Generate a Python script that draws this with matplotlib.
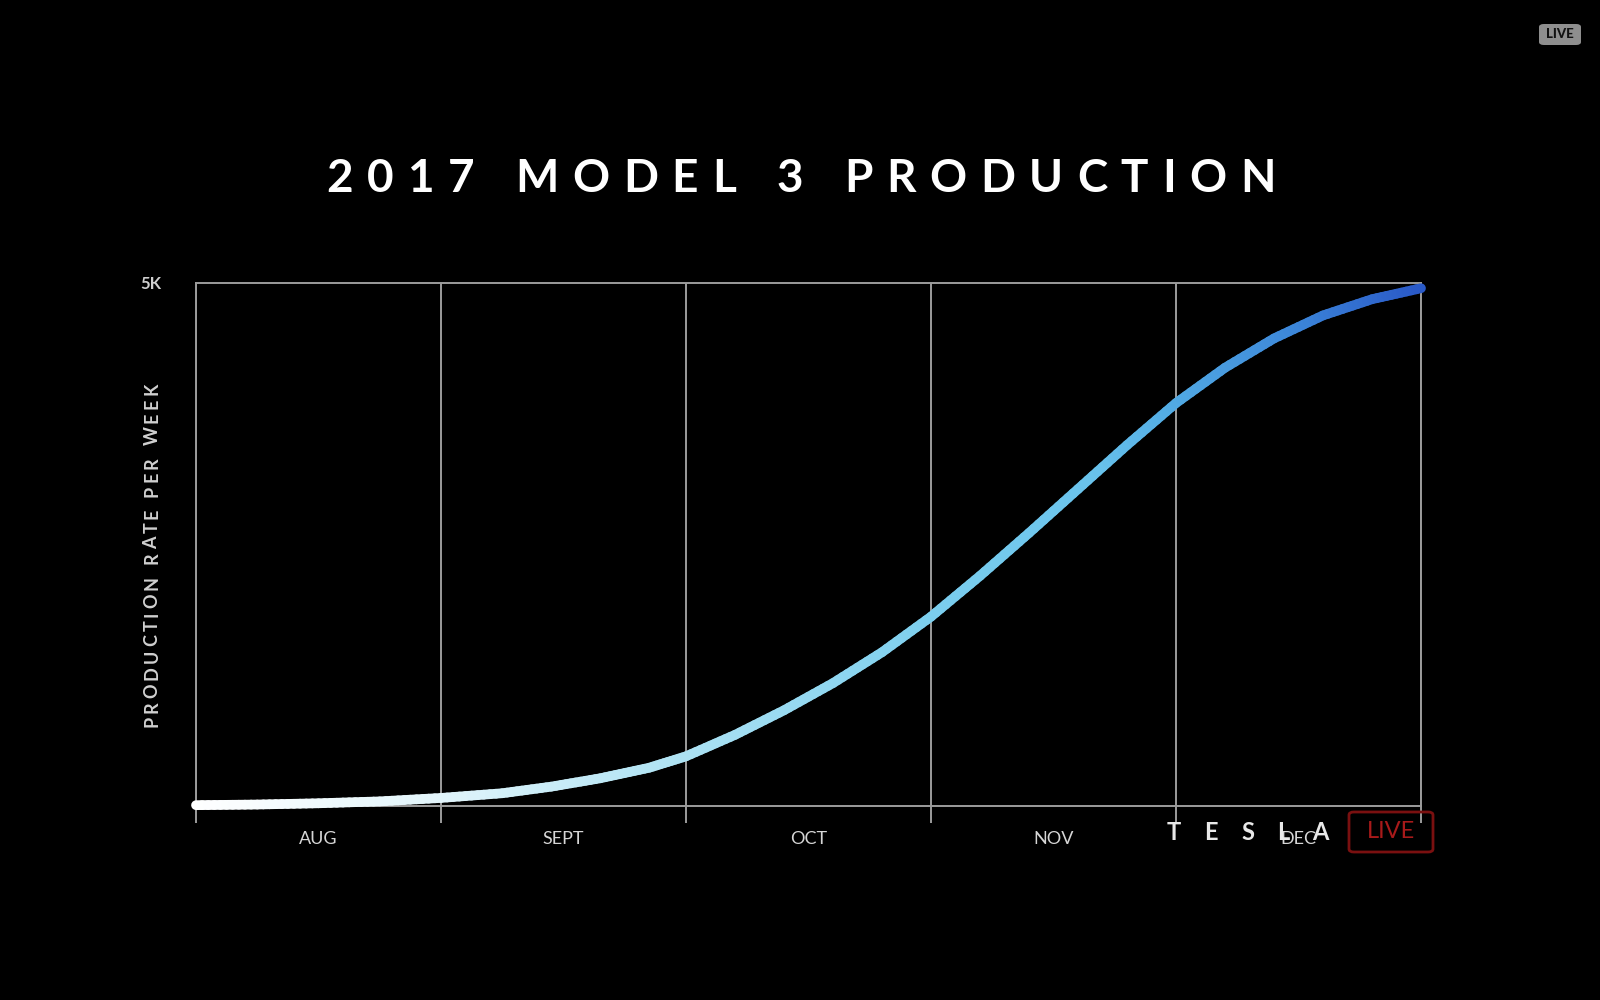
import numpy as np
import matplotlib.pyplot as plt
from matplotlib.collections import LineCollection
from matplotlib.colors import LinearSegmentedColormap
from matplotlib.patches import FancyBboxPatch

# values (months since start of Aug, cars per week)
months = [0.0, 0.25, 0.5, 0.75, 1.0, 1.25, 1.45, 1.65, 1.85, 2.0, 2.2, 2.4,
          2.6, 2.8, 3.0, 3.2, 3.4, 3.6, 3.8, 4.0, 4.2, 4.4, 4.6, 4.8, 5.0]
rate = [8, 14, 26, 44, 77, 122, 185, 265, 366, 475, 680, 915,
        1175, 1470, 1810, 2200, 2610, 3030, 3450, 3852, 4190, 4470, 4690, 4845, 4950]
month_labels = ["AUG", "SEPT", "OCT", "NOV", "DEC"]
y_tick_label = "5K"

W, H = 1600, 1000
FONT = "Lato"

plt.rcParams['font.family'] = [FONT, 'DejaVu Sans']
fig = plt.figure(figsize=(16, 10), dpi=100, facecolor="black")


def fx(px):
    return px / W


def fy(py):
    return 1 - py / H


def spaced_text(s, cx, cy, size, width, vertical=False, space=0.3, **kw):
    """Draw letter-spaced text so that it spans `width` pixels, centred on (cx, cy)."""
    r = fig.canvas.get_renderer()
    em = size * fig.dpi / 72
    ws = []
    for ch in s:
        if ch == " ":
            ws.append(space * em)
            continue
        t = fig.text(0, 0, ch, size=size, **kw)
        ws.append(t.get_window_extent(r).width)
        t.remove()
    gap = (width - sum(ws)) / (len(ws) - 1)
    pos = -width / 2
    for ch, w in zip(s, ws):
        c = pos + w / 2
        if ch != " ":
            if vertical:
                fig.text(fx(cx), fy(cy - c), ch, size=size, rotation=90,
                         ha="center", va="center", **kw)
            else:
                fig.text(fx(cx + c), fy(cy), ch, size=size,
                         ha="center", va="center", **kw)
        pos += w + gap


# axes box: 196..1421 px horizontally, 283..806 px vertically
ax = fig.add_axes([fx(196), fy(806), fx(1421) - fx(196), fy(283) - fy(806)])
ax.set_facecolor("black")
ax.set_xlim(0, 5)
ax.set_ylim(0, 5000)

grid_c = "#9c9c9c"
for sp in ax.spines.values():
    sp.set_color(grid_c)
    sp.set_linewidth(1.4)

ax.set_xticks(range(6))
ax.set_xticklabels([])
ax.tick_params(axis="x", which="major", length=12, width=1.4, color=grid_c, direction="out")
ax.set_xticks([i + 0.5 for i in range(5)], minor=True)
ax.set_xticklabels(month_labels, minor=True)
ax.tick_params(axis="x", which="minor", length=0, pad=18, labelsize=13, labelcolor="#d6d6d6")
ax.grid(True, axis="x", which="major", color=grid_c, linewidth=1.4)

ax.set_yticks([5000])
ax.set_yticklabels([y_tick_label], weight="bold")
ax.tick_params(axis="y", length=0, pad=25, labelsize=12, labelcolor="#cfcfcf")

# gradient line, each straight piece split only for colouring
cmap = LinearSegmentedColormap.from_list("m3", [
    (0.0, "#ffffff"), (0.2, "#e2f5fb"), (0.4, "#ade2f3"), (0.6, "#7dcfee"),
    (0.74, "#68c2ec"), (0.8, "#52abe4"), (0.9, "#3c86d9"), (1.0, "#2a5ac8")])
xs = np.asarray(months, dtype=float)
ys = np.asarray(rate, dtype=float)
segs, cols = [], []
nsub = 10
for i in range(len(xs) - 1):
    for k in range(nsub):
        a, b = k / nsub, (k + 1) / nsub
        p0 = (xs[i] + a * (xs[i + 1] - xs[i]), ys[i] + a * (ys[i + 1] - ys[i]))
        p1 = (xs[i] + b * (xs[i + 1] - xs[i]), ys[i] + b * (ys[i + 1] - ys[i]))
        segs.append([p0, p1])
        cols.append(cmap((p0[0] + p1[0]) / 2 / 5))
lc = LineCollection(segs, colors=cols, linewidths=7, capstyle="round",
                    joinstyle="round", clip_on=False, zorder=5)
ax.add_collection(lc)

# title and y label
spaced_text("2017 MODEL 3 PRODUCTION", 801, 179, 33, 949, color="white", weight="bold")
spaced_text("PRODUCTION RATE PER WEEK", 152, 555, 13, 344, vertical=True,
            color="#d0d0d0", weight="bold")

# top-right live badge
fig.patches.append(FancyBboxPatch((fx(1539), fy(45)), fx(42), 21 / H,
                                  boxstyle="round,pad=0,rounding_size=0.003",
                                  transform=fig.transFigure, facecolor="#8e8e8e",
                                  edgecolor="none"))
fig.text(fx(1560), fy(34), "LIVE", size=9.5, weight="black", color="#111111",
         ha="center", va="center")

# broadcast watermark
spaced_text("TESLA", 1248, 833, 17, 162, color="#e8e8e8", weight="bold")
fig.patches.append(FancyBboxPatch((fx(1349), fy(852)), fx(84), 40 / H,
                                  boxstyle="round,pad=0,rounding_size=0.003",
                                  transform=fig.transFigure, facecolor="none",
                                  edgecolor="#7a1010", linewidth=2))
fig.text(fx(1391), fy(832), "LIVE", size=17, color="#a81a1a", ha="center", va="center")

fig.savefig("out.png", facecolor="black")
